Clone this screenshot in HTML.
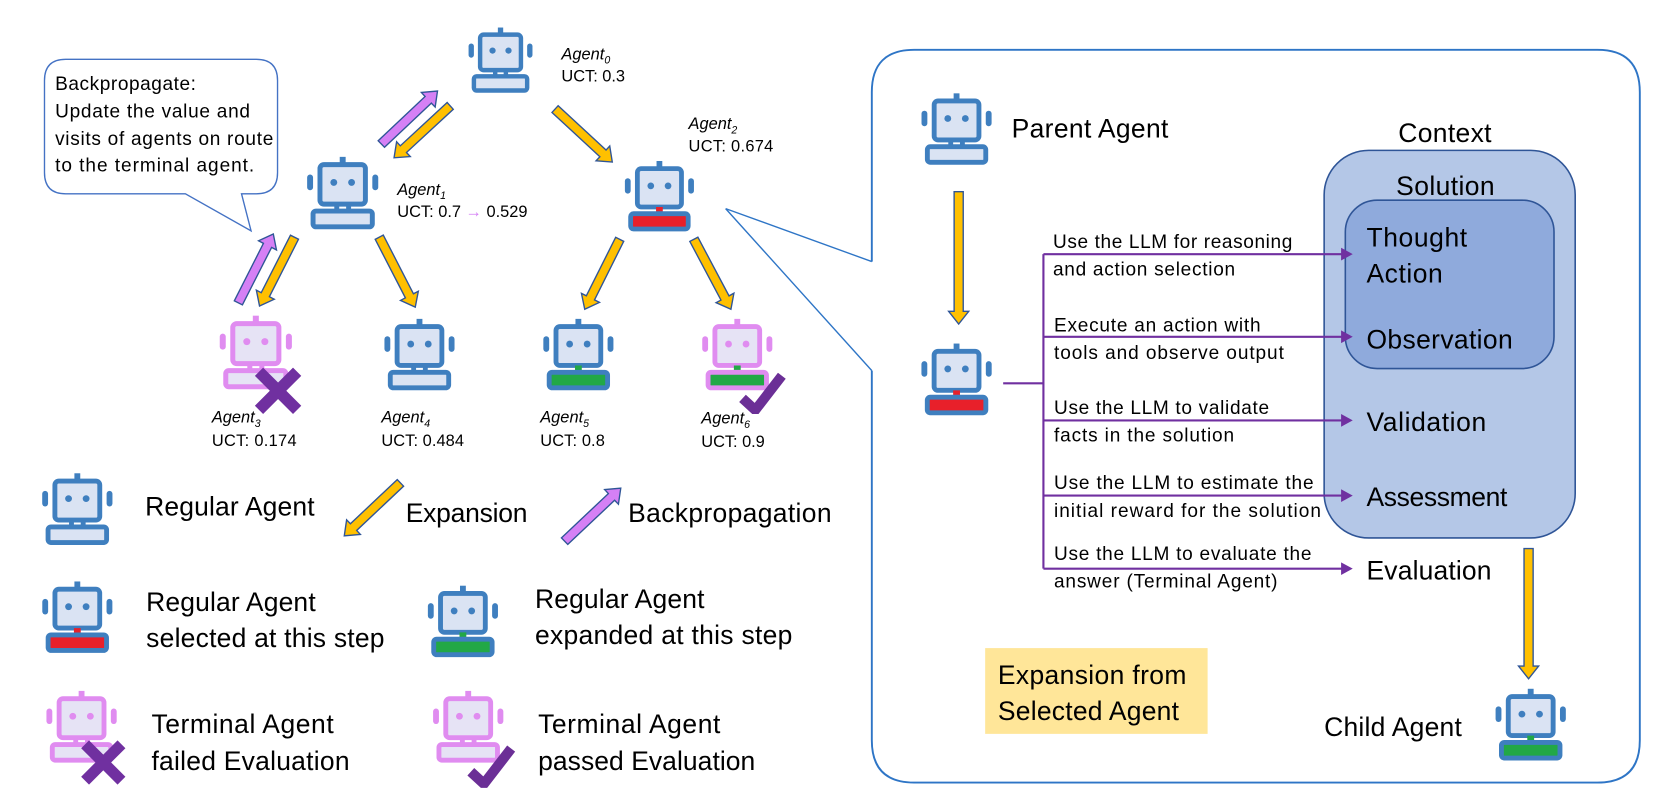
<!DOCTYPE html>
<html><head><meta charset="utf-8"><style>
html,body{margin:0;padding:0;background:#fff;}
svg{display:block;}
text{font-family:"Liberation Sans",sans-serif;fill:#000;}
</style></head><body>
<svg id="s" width="1661" height="808" viewBox="0 0 1568 763" preserveAspectRatio="none" xmlns="http://www.w3.org/2000/svg">
<defs>
<symbol id="rb" viewBox="0 0 76 74"><g stroke="#3f7fbf" stroke-width="5" fill="#dae3f3"><rect x="35" y="0" width="6" height="7" fill="#3f7fbf" stroke="none"/><rect x="15" y="8" width="46" height="40" rx="4"/><rect x="2" y="18" width="6" height="16" rx="3" fill="#3f7fbf" stroke="none"/><rect x="68" y="18" width="6" height="16" rx="3" fill="#3f7fbf" stroke="none"/><path d="M32 48 V55 M44 48 V55" fill="none"/><rect x="8" y="55" width="60" height="16" rx="3"/></g><circle cx="29" cy="26" r="3.5" fill="#3f7fbf"/><circle cx="47" cy="26" r="3.5" fill="#3f7fbf"/></symbol>
<symbol id="rr" viewBox="0 0 76 74"><g stroke="#3f7fbf" stroke-width="5" fill="#dae3f3"><rect x="35" y="0" width="6" height="7" fill="#3f7fbf" stroke="none"/><rect x="15" y="8" width="46" height="40" rx="4"/><rect x="2" y="18" width="6" height="16" rx="3" fill="#3f7fbf" stroke="none"/><rect x="68" y="18" width="6" height="16" rx="3" fill="#3f7fbf" stroke="none"/><path d="M38 48 V56" stroke="#e8202a" stroke-width="7"/><rect x="8" y="55" width="60" height="16" rx="3" fill="#e8202a"/></g><circle cx="29" cy="26" r="3.5" fill="#3f7fbf"/><circle cx="47" cy="26" r="3.5" fill="#3f7fbf"/></symbol>
<symbol id="rg" viewBox="0 0 76 74"><g stroke="#3f7fbf" stroke-width="5" fill="#dae3f3"><rect x="35" y="0" width="6" height="7" fill="#3f7fbf" stroke="none"/><rect x="15" y="8" width="46" height="40" rx="4"/><rect x="2" y="18" width="6" height="16" rx="3" fill="#3f7fbf" stroke="none"/><rect x="68" y="18" width="6" height="16" rx="3" fill="#3f7fbf" stroke="none"/><path d="M38 48 V56" stroke="#22a846" stroke-width="7"/><rect x="8" y="55" width="60" height="16" rx="3" fill="#22a846"/></g><circle cx="29" cy="26" r="3.5" fill="#3f7fbf"/><circle cx="47" cy="26" r="3.5" fill="#3f7fbf"/></symbol>
<symbol id="rp" viewBox="0 0 76 74"><g stroke="#e08cf0" stroke-width="5" fill="#e6e3f5"><rect x="35" y="0" width="6" height="7" fill="#e08cf0" stroke="none"/><rect x="15" y="8" width="46" height="40" rx="4"/><rect x="2" y="18" width="6" height="16" rx="3" fill="#e08cf0" stroke="none"/><rect x="68" y="18" width="6" height="16" rx="3" fill="#e08cf0" stroke="none"/><path d="M32 48 V55 M44 48 V55" fill="none"/><rect x="8" y="55" width="60" height="16" rx="3"/></g><circle cx="29" cy="26" r="3.5" fill="#e08cf0"/><circle cx="47" cy="26" r="3.5" fill="#e08cf0"/></symbol>
<symbol id="rpg" viewBox="0 0 76 74"><g stroke="#e08cf0" stroke-width="5" fill="#e6e3f5"><rect x="35" y="0" width="6" height="7" fill="#e08cf0" stroke="none"/><rect x="15" y="8" width="46" height="40" rx="4"/><rect x="2" y="18" width="6" height="16" rx="3" fill="#e08cf0" stroke="none"/><rect x="68" y="18" width="6" height="16" rx="3" fill="#e08cf0" stroke="none"/><path d="M38 48 V56" stroke="#22a846" stroke-width="7"/><rect x="8" y="55" width="60" height="16" rx="3" fill="#22a846"/></g><circle cx="29" cy="26" r="3.5" fill="#e08cf0"/><circle cx="47" cy="26" r="3.5" fill="#e08cf0"/></symbol>
<symbol id="xm" viewBox="0 0 44 44"><path d="M4 4 L40 40 M40 4 L4 40" stroke="#7030a0" stroke-width="11"/></symbol>
<symbol id="ck" viewBox="0 0 46 42"><path d="M3 26 L16 38 L43 3" stroke="#6b2f96" stroke-width="10" fill="none"/></symbol>
</defs>

<path d="M823 247 L823 87 Q823 47 863 47 L1508 47 Q1548 47 1548 87 L1548 699 Q1548 739 1508 739 L863 739 Q823 739 823 699 L823 350" fill="none" stroke="#2e75c6" stroke-width="1.8"/>
<path d="M685 197 L823 247 M685 197 L823 350" stroke="#2e75c6" stroke-width="1.3" fill="none"/>

<path d="M70 56 L242 56 Q262 56 262 76 L262 163 Q262 183 242 183 L228 183 L237 218 L175 183 L62 183 Q42 183 42 163 L42 76 Q42 56 62 56 Z" fill="#fff" stroke="#4472c4" stroke-width="1.3"/>
<g font-size="18" lengthAdjust="spacingAndGlyphs"><text x="52" y="85" textLength="133">Backpropagate:</text><text x="52" y="111" textLength="184">Update the value and</text><text x="52" y="137" textLength="206">visits of agents on route</text><text x="52" y="162" textLength="188">to the terminal agent.</text></g>

<rect x="1250" y="142" width="237" height="366" rx="42" fill="#b4c7e7" stroke="#2f5597" stroke-width="1.5"/>
<rect x="1270" y="189" width="197" height="159" rx="30" fill="#8faadc" stroke="#2f5597" stroke-width="1.5"/>
<g font-size="25"><text x="1320" y="134" textLength="88">Context</text><text x="1318" y="184" textLength="93">Solution</text>
<text x="1290" y="233" textLength="95">Thought</text><text x="1290" y="267" textLength="72">Action</text><text x="1290" y="329" textLength="138">Observation</text><text x="1290" y="407" textLength="113">Validation</text><text x="1290" y="478" textLength="133">Assessment</text><text x="1290" y="547" textLength="118">Evaluation</text>
<text x="955" y="130" textLength="148">Parent Agent</text><text x="1250" y="695" textLength="130">Child Agent</text></g>

<g stroke="#7030a0" stroke-width="2" fill="none"><path d="M947 362 H985 M985 240 V537 M985 240 H1268 M985 318 H1268 M985 397 H1268 M985 468 H1268 M985 537 H1268"/></g>
<g fill="#7030a0"><path d="M1266 234 L1277 240 L1266 246Z"/><path d="M1266 312 L1277 318 L1266 324Z"/><path d="M1266 391 L1277 397 L1266 403Z"/><path d="M1266 462 L1277 468 L1266 474Z"/><path d="M1266 531 L1277 537 L1266 543Z"/></g>
<g font-size="18"><text x="994" y="234" textLength="226">Use the LLM for reasoning</text><text x="994" y="260" textLength="172">and action selection</text>
<text x="995" y="313" textLength="195">Execute an action with</text><text x="995" y="339" textLength="217">tools and observe output</text>
<text x="995" y="391" textLength="203">Use the LLM to validate</text><text x="995" y="417" textLength="170">facts in the solution</text>
<text x="995" y="462" textLength="245">Use the LLM to estimate the</text><text x="995" y="488" textLength="252">initial reward for the solution</text>
<text x="995" y="529" textLength="243">Use the LLM to evaluate the</text><text x="995" y="555" textLength="211">answer (Terminal Agent)</text></g>

<rect x="930" y="612" width="210" height="81" fill="#ffe699"/>
<g font-size="25"><text x="942" y="646" textLength="178">Expansion from</text><text x="942" y="680" textLength="171">Selected Agent</text></g>

<use href="#rb" x="437" y="26" width="71" height="62"/>
<use href="#rb" x="288" y="148" width="71" height="69"/>
<use href="#rr" x="587" y="152" width="71" height="67"/>
<use href="#rp" x="205" y="298" width="73" height="70"/>
<use href="#rb" x="360" y="301" width="72" height="68"/>
<use href="#rg" x="510" y="301" width="72" height="68"/>
<use href="#rpg" x="660" y="301" width="72" height="68"/>
<use href="#rb" x="38" y="446" width="70" height="70"/>
<use href="#rr" x="38" y="549" width="70" height="68"/>
<use href="#rg" x="402" y="553" width="70" height="68"/>
<use href="#rp" x="42" y="652" width="70" height="69"/>
<use href="#rp" x="407" y="652" width="70" height="69"/>
<use href="#rb" x="868" y="88" width="70" height="68"/>
<use href="#rr" x="868" y="324" width="70" height="69"/>
<use href="#rg" x="1410" y="650" width="70" height="69"/>
<use href="#xm" x="240" y="347" width="45" height="44"/>
<use href="#ck" x="697" y="352" width="45" height="39"/>
<use href="#xm" x="75" y="699" width="45" height="42"/>
<use href="#ck" x="440" y="704" width="47" height="40"/>

<g font-size="15.5"><text x="530" y="56" font-style="italic">Agent<tspan font-size="10" dy="4">0</tspan></text><text x="530" y="77" textLength="60">UCT: 0.3</text>
<text x="650" y="122" font-style="italic">Agent<tspan font-size="10" dy="4">2</tspan></text><text x="650" y="143" textLength="80">UCT: 0.674</text>
<text x="375" y="184" font-style="italic">Agent<tspan font-size="10" dy="4">1</tspan></text><text x="375" y="205" textLength="123">UCT: 0.7 <tspan fill="#d580f5">→</tspan> 0.529</text>
<text x="200" y="399" font-style="italic">Agent<tspan font-size="10" dy="4">3</tspan></text><text x="200" y="421" textLength="80">UCT: 0.174</text>
<text x="360" y="399" font-style="italic">Agent<tspan font-size="10" dy="4">4</tspan></text><text x="360" y="421" textLength="78">UCT: 0.484</text>
<text x="510" y="399" font-style="italic">Agent<tspan font-size="10" dy="4">5</tspan></text><text x="510" y="421" textLength="61">UCT: 0.8</text>
<text x="662" y="400" font-style="italic">Agent<tspan font-size="10" dy="4">6</tspan></text><text x="662" y="422" textLength="60">UCT: 0.9</text></g>

<g font-size="25"><text x="137" y="487" textLength="160">Regular Agent</text><text x="383" y="493" textLength="115">Expansion</text><text x="593" y="493" textLength="192">Backpropagation</text>
<text x="138" y="577" textLength="160">Regular Agent</text><text x="138" y="611" textLength="225">selected at this step</text>
<text x="505" y="574" textLength="160">Regular Agent</text><text x="505" y="608" textLength="243">expanded at this step</text>
<text x="143" y="692" textLength="172">Terminal Agent</text><text x="143" y="727" textLength="187">failed Evaluation</text>
<text x="508" y="692" textLength="172">Terminal Agent</text><text x="508" y="727" textLength="205">passed Evaluation</text></g>

<g id="arrows"></g>
<script>
(function(){
var g=document.getElementById('arrows');
var Y='#ffc000',P='#d580f5';
var A=[[360,136,413,86,P],[425,100,372,149,Y],[524,103,578,153,Y],[358,224,392,290,Y],[278,224,245,289,Y],[225,286,258,221,P],[585,226,552,292,Y],[655,226,690,292,Y],[378,456,325,506,Y],[533,511,586,461,P],[905,181,905,306,Y],[1443,518,1443,641,Y]];
A.forEach(function(a){
var x1=a[0],y1=a[1],x2=a[2],y2=a[3];
var dx=x2-x1,dy=y2-y1,L=Math.sqrt(dx*dx+dy*dy),ux=dx/L,uy=dy/L,nx=-uy,ny=ux;
var w=4.3,hw=9.5,hl=12;
var bx=x2-ux*hl,by=y2-uy*hl;
var pts=[[x1+nx*w,y1+ny*w],[bx+nx*w,by+ny*w],[bx+nx*hw,by+ny*hw],[x2,y2],[bx-nx*hw,by-ny*hw],[bx-nx*w,by-ny*w],[x1-nx*w,y1-ny*w]];
var p=document.createElementNS('http://www.w3.org/2000/svg','polygon');
p.setAttribute('points',pts.map(function(q){return q[0].toFixed(1)+','+q[1].toFixed(1)}).join(' '));
p.setAttribute('fill',a[4]);p.setAttribute('stroke','#2f5597');p.setAttribute('stroke-width','1.3');
g.appendChild(p);});
})();
</script>
</svg>
</body></html>
